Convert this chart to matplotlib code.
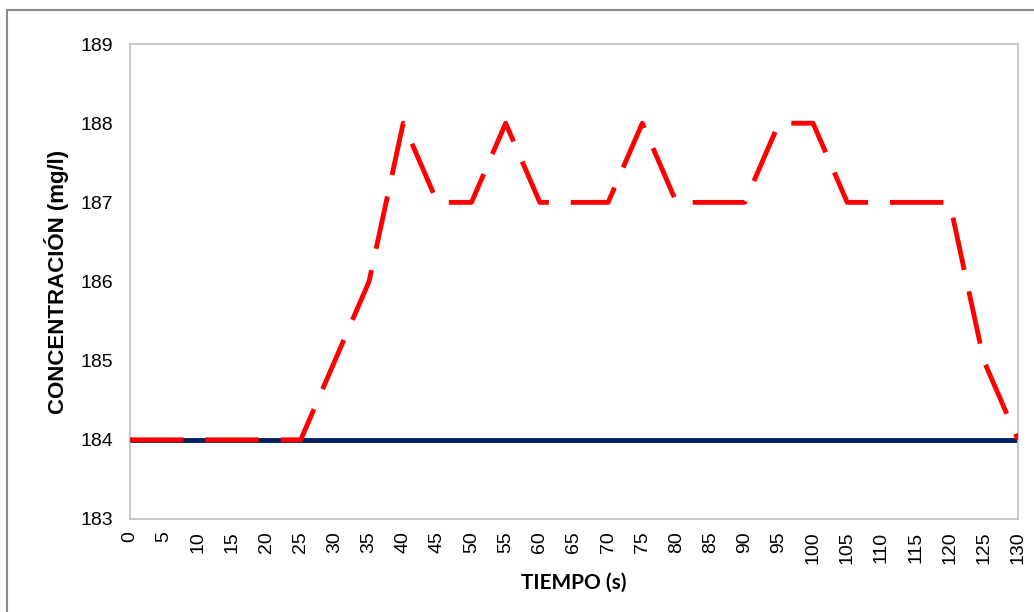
import matplotlib
matplotlib.use("Agg")
import matplotlib.pyplot as plt
from matplotlib.patches import Rectangle

# datos
tiempo = [0, 5, 10, 15, 20, 25, 30, 35, 40, 45, 50, 55, 60, 65, 70,
          75, 80, 85, 90, 95, 100, 105, 110, 115, 120, 125, 130]
concentracion = [184, 184, 184, 184, 184, 184, 185, 186, 188, 187, 187, 188, 187, 187, 187,
                 188, 187, 187, 187, 188, 188, 187, 187, 187, 187, 185, 184]
referencia = [184] * len(tiempo)

plt.rcParams['font.family'] = ['Liberation Sans', 'DejaVu Sans']

fig = plt.figure(figsize=(10.34, 6.12), dpi=100)
ax = fig.add_axes([0.1257, 0.152, 0.8588, 0.776])

# marco exterior
fig.patches.append(Rectangle((7 / 1034, -0.05), 1.1, 1 - 10 / 612 + 0.05,
                             transform=fig.transFigure, fill=False,
                             edgecolor='#8c8c8c', linewidth=1.5))

ax.plot(tiempo, referencia, color='#002060', linewidth=3.5, zorder=2)
ax.plot(tiempo, concentracion, color='#ff0000', linewidth=3.5,
        dashes=(11, 4.5), zorder=3)

ax.set_xlim(0, 130)
ax.set_ylim(183, 189)
ax.set_xticks(tiempo)
ax.set_xticklabels([str(t) for t in tiempo], rotation=90)
ax.set_yticks(range(183, 190))
ax.tick_params(length=0, labelsize=14)
ax.tick_params(axis='y', pad=12)
ax.tick_params(axis='x', pad=9)

for s in ax.spines.values():
    s.set_color('#bfbfbf')
    s.set_linewidth(1.2)

ax.set_xlabel('TIEMPO (s)', fontsize=15, fontweight='bold', labelpad=6,
              family=['Lato', 'DejaVu Sans'])
ax.set_ylabel('CONCENTRACIÓN (mg/l)', fontsize=16, fontweight='bold', labelpad=8)

fig.savefig('out.png', dpi=100)
